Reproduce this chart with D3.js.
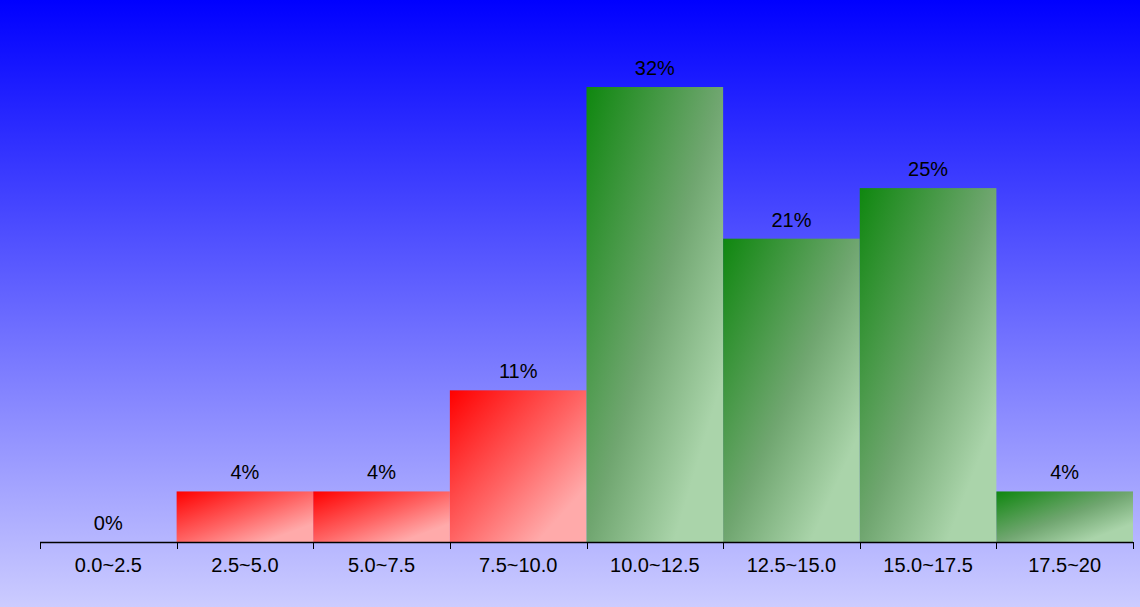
<!DOCTYPE html>
<html>
<head>
<meta charset="utf-8">
<script src="https://cdn.jsdelivr.net/npm/d3@7"></script>
<style>
html,body{margin:0;padding:0;overflow:hidden;}
svg{display:block;}
text{font-family:"Liberation Sans",Arial,sans-serif;}
</style>
</head>
<body>
<script>
const categories = ["0.0~2.5","2.5~5.0","5.0~7.5","7.5~10.0","10.0~12.5","12.5~15.0","15.0~17.5","17.5~20"];
const counts = [0,1,1,3,9,6,7,1];
const groups = ["red","red","red","red","green","green","green","green"];

const W = 1140, H = 607;
const total = d3.sum(counts);
const svg = d3.select("body").append("svg").attr("width", W).attr("height", H);
const defs = svg.append("defs");

const bg = defs.append("linearGradient").attr("id","bg").attr("x1",0).attr("y1",0).attr("x2",0).attr("y2",1);
bg.append("stop").attr("offset","0%").attr("stop-color","#0000ff");
bg.append("stop").attr("offset","100%").attr("stop-color","#ccccff");
svg.append("rect").attr("width",W).attr("height",H).attr("fill","url(#bg)");

const gradStops = {
  red: [["0%","#ff0000"],["50%","#ff6464"],["82%","#ffaaaa"],["100%","#ffaaaa"]],
  green: [["0%","#0f870f"],["50%","#70a670"],["82%","#aad4aa"],["100%","#aad4aa"]]
};
Object.entries(gradStops).forEach(([k,stops])=>{
  const g = defs.append("linearGradient").attr("id","g-"+k).attr("x1",0).attr("y1",0).attr("x2",1).attr("y2",1);
  stops.forEach(s=>g.append("stop").attr("offset",s[0]).attr("stop-color",s[1]));
});

const x = d3.scaleBand().domain(categories).range([40,1133]).padding(0);
const y = d3.scaleLinear().domain([0, d3.max(counts)]).range([542, 87]);

svg.append("g").selectAll("rect").data(categories).join("rect")
  .attr("x", d=>x(d))
  .attr("y", (d,i)=>y(counts[i]))
  .attr("width", x.bandwidth())
  .attr("height", (d,i)=>y(0)-y(counts[i]))
  .attr("fill", (d,i)=>"url(#g-"+groups[i]+")");

svg.append("g").selectAll("text").data(categories).join("text")
  .attr("x", d=>x(d)+x.bandwidth()/2)
  .attr("y", (d,i)=>y(counts[i])-12)
  .attr("text-anchor","middle")
  .attr("font-size",20)
  .attr("fill","#000")
  .text((d,i)=>Math.round(counts[i]/total*100)+"%");

// axis
const ax = svg.append("g");
ax.append("line").attr("x1",x.range()[0]).attr("x2",x.range()[1]).attr("y1",y(0)+0.5).attr("y2",y(0)+0.5).attr("stroke","#000").attr("stroke-width",1.5);
const tickPos = categories.map(d=>x(d)).concat([x.range()[1]]);
ax.selectAll("line.tick").data(tickPos).join("line").attr("class","tick")
  .attr("x1",d=>Math.round(d)+0.5).attr("x2",d=>Math.round(d)+0.5)
  .attr("y1",y(0)).attr("y2",y(0)+7).attr("stroke","#000").attr("stroke-width",1);
ax.selectAll("text").data(categories).join("text")
  .attr("x", d=>x(d)+x.bandwidth()/2)
  .attr("y", y(0)+30)
  .attr("text-anchor","middle")
  .attr("font-size",20)
  .attr("fill","#000")
  .text(d=>d);
</script>
</body>
</html>
